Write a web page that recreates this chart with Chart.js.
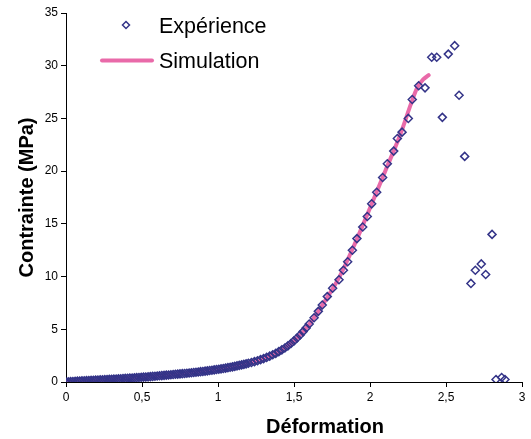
<!DOCTYPE html>
<html>
<head>
<meta charset="utf-8">
<script src="https://cdn.jsdelivr.net/npm/chart.js@4.4.0/dist/chart.umd.min.js"></script>
<style>
  body { margin: 0; background: #fff; }
</style>
</head>
<body>
<canvas id="chart" width="531" height="439"></canvas>
<script>
// Expérience : déformation / contrainte (MPa)
const expX = [
  0, 0.015, 0.03, 0.045, 0.06, 0.075, 0.09, 0.105, 0.12, 0.135,
  0.15, 0.165, 0.18, 0.195, 0.21, 0.225, 0.24, 0.255, 0.27, 0.285,
  0.3, 0.315, 0.33, 0.345, 0.36, 0.375, 0.39, 0.405, 0.42, 0.435,
  0.45, 0.465, 0.48, 0.495, 0.51, 0.525, 0.54, 0.555, 0.57, 0.585,
  0.6, 0.615, 0.63, 0.645, 0.66, 0.675, 0.69, 0.705, 0.72, 0.735,
  0.75, 0.765, 0.78, 0.795, 0.81, 0.825, 0.84, 0.855, 0.87, 0.885,
  0.9, 0.915, 0.93, 0.945, 0.96, 0.975, 0.99, 1.005, 1.02, 1.035,
  1.05, 1.065, 1.08, 1.095, 1.11, 1.125, 1.14, 1.155, 1.17, 1.185,
  1.2,
  1.22, 1.24, 1.26, 1.28, 1.3, 1.32, 1.34, 1.36, 1.38, 1.4,
  1.42, 1.44, 1.46, 1.48, 1.5, 1.52, 1.54, 1.56, 1.58, 1.6,
  1.632, 1.66, 1.686, 1.719, 1.754, 1.796, 1.825, 1.853, 1.884, 1.914,
  1.952, 1.982, 2.011, 2.044, 2.083, 2.114, 2.156, 2.18, 2.211, 2.252,
  2.278, 2.32, 2.362, 2.406, 2.439, 2.476, 2.515, 2.557, 2.586, 2.623,
  2.664, 2.693, 2.732, 2.761, 2.803, 2.829, 2.866, 2.888
];
const expY = [
  0, 0.02, 0.04, 0.05, 0.07, 0.08, 0.09, 0.11, 0.12, 0.13,
  0.14, 0.15, 0.17, 0.18, 0.19, 0.2, 0.21, 0.22, 0.24, 0.25,
  0.26, 0.27, 0.29, 0.3, 0.31, 0.33, 0.34, 0.35, 0.37, 0.38,
  0.4, 0.41, 0.43, 0.44, 0.46, 0.47, 0.49, 0.51, 0.53, 0.55,
  0.57, 0.59, 0.61, 0.63, 0.65, 0.67, 0.69, 0.71, 0.73, 0.75,
  0.77, 0.79, 0.81, 0.83, 0.85, 0.88, 0.9, 0.93, 0.95, 0.98,
  1, 1.03, 1.06, 1.09, 1.12, 1.15, 1.18, 1.21, 1.25, 1.28,
  1.32, 1.36, 1.4, 1.44, 1.48, 1.53, 1.58, 1.62, 1.67, 1.72,
  1.78,
  1.85, 1.93, 2.02, 2.12, 2.22, 2.33, 2.45, 2.58, 2.72, 2.88,
  3.05, 3.23, 3.43, 3.65, 3.9, 4.17, 4.46, 4.78, 5.13, 5.5,
  6.1, 6.7, 7.3, 8.1, 8.9, 9.7, 10.6, 11.4, 12.5, 13.6,
  14.7, 15.7, 16.9, 18.0, 19.4, 20.7, 21.9, 23.1, 23.7, 25.0,
  26.8, 28.1, 27.9, 30.8, 30.8, 25.1, 31.1, 31.9, 27.2, 21.4,
  9.35, 10.6, 11.2, 10.2, 14.0, 0.24, 0.43, 0.24
];

// Simulation
const simX = [0, 0.25, 0.5, 0.75, 1.0, 1.1, 1.2, 1.3, 1.4, 1.5, 1.6, 1.7, 1.8, 1.9, 2.0, 2.1, 2.2, 2.27, 2.31, 2.35, 2.386];
const simY = [0, 0.22, 0.45, 0.77, 1.2, 1.46, 1.78, 2.22, 2.88, 3.9, 5.45, 7.6, 10.0, 13.1, 16.5, 20.0, 23.5, 26.4, 27.9, 28.7, 29.1];

const seriesNames = ['Expérience', 'Simulation'];
const navy = '#343488';
const pink = '#E96AA9';
const font = 'Arial, "Liberation Sans", sans-serif';

// légende et titre de l'axe horizontal dessinés à la main
const extraText = {
  id: 'extraText',
  afterDraw(chart) {
    const ctx = chart.ctx;
    const area = chart.chartArea;
    ctx.save();
    ctx.strokeStyle = navy;
    ctx.lineWidth = 1.5;
    ctx.beginPath();
    ctx.moveTo(126, 21.5);
    ctx.lineTo(129.5, 25);
    ctx.lineTo(126, 28.5);
    ctx.lineTo(122.5, 25);
    ctx.closePath();
    ctx.stroke();

    ctx.strokeStyle = pink;
    ctx.lineWidth = 4;
    ctx.lineCap = 'round';
    ctx.beginPath();
    ctx.moveTo(102, 60.5);
    ctx.lineTo(152, 60.5);
    ctx.stroke();

    ctx.fillStyle = '#000';
    ctx.font = '21.5px ' + font;
    ctx.textBaseline = 'alphabetic';
    ctx.textAlign = 'left';
    ctx.fillText(seriesNames[0], 159, 33);
    ctx.fillText(seriesNames[1], 159, 68);

    ctx.font = 'bold 20px ' + font;
    ctx.textAlign = 'center';
    ctx.fillText('Déformation', area.left + 259, 433);
    ctx.restore();
  }
};

new Chart(document.getElementById('chart'), {
  type: 'scatter',
  data: {
    datasets: [{
      label: seriesNames[0],
      data: expX.map((x, i) => ({ x: x, y: expY[i] })),
      pointStyle: 'rectRot',
      pointRadius: 4,
      pointHoverRadius: 4,
      borderWidth: 1.5,
      borderColor: navy,
      backgroundColor: 'rgba(0,0,0,0)',
      showLine: false
    }, {
      label: seriesNames[1],
      data: simX.map((x, i) => ({ x: x, y: simY[i] })),
      showLine: true,
      borderColor: pink,
      borderWidth: 4,
      borderCapStyle: 'round',
      cubicInterpolationMode: 'monotone',
      pointRadius: 0,
      pointHoverRadius: 0
    }]
  },
  options: {
    responsive: false,
    animation: false,
    devicePixelRatio: 1,
    layout: {
      autoPadding: false,
      padding: { top: 13, right: 9, left: 0, bottom: 0 }
    },
    plugins: {
      legend: { display: false },
      tooltip: { enabled: false }
    },
    scales: {
      x: {
        type: 'linear',
        min: 0,
        max: 3,
        afterFit: (s) => { s.height = 57; },
        ticks: {
          stepSize: 0.5,
          color: '#000',
          padding: 3,
          font: { family: font, size: 12 },
          callback: (v) => String(v).replace('.', ',')
        },
        grid: { drawOnChartArea: false, tickLength: 5, tickColor: '#000', tickWidth: 1 },
        border: { color: '#000', width: 1 }
      },
      y: {
        min: 0,
        max: 35,
        afterFit: (s) => { s.width = 66; },
        ticks: {
          stepSize: 5,
          color: '#000',
          padding: 3,
          font: { family: font, size: 12 }
        },
        grid: { drawOnChartArea: false, tickLength: 5, tickColor: '#000', tickWidth: 1 },
        border: { color: '#000', width: 1 },
        title: {
          display: true,
          text: 'Contrainte (MPa)',
          color: '#000',
          font: { family: font, size: 20, weight: 'bold' },
          padding: { top: 15, bottom: 0 }
        }
      }
    }
  },
  plugins: [extraText]
});
</script>
</body>
</html>
